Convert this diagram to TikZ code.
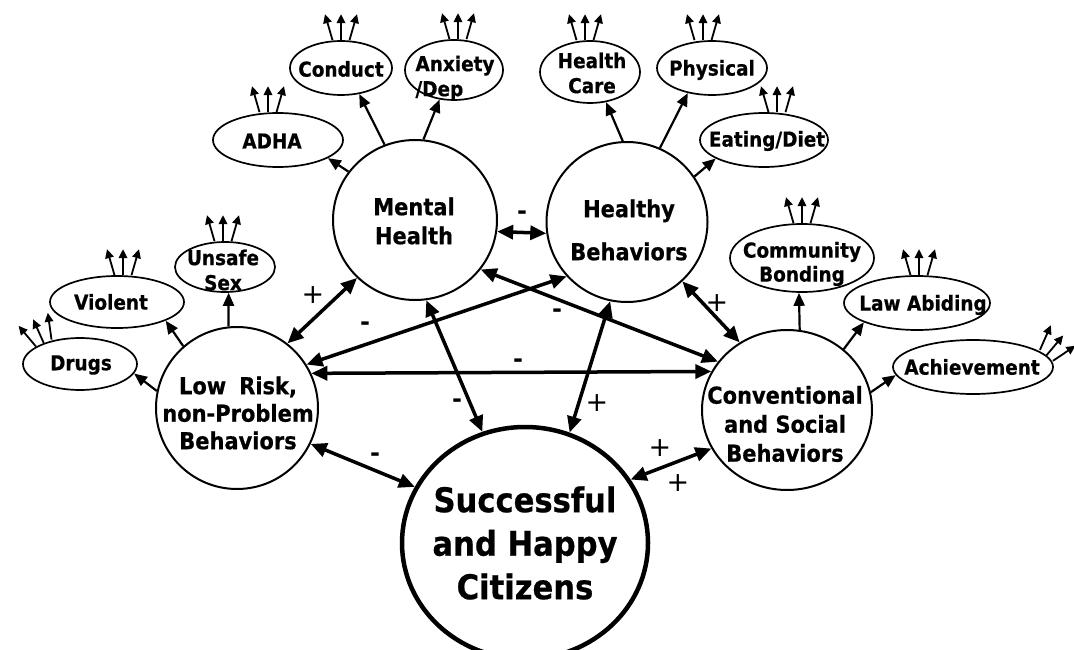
\documentclass[tikz,border=0pt]{standalone}
\usepackage{fontspec}
\usetikzlibrary{shapes.geometric,arrows.meta}
\newfontfamily\lblfont{DejaVu Sans}[FakeStretch=0.9, BoldFeatures={FakeBold=0.6}]
\newfontfamily\signfont{DejaVu Sans}
\begin{document}
\begin{tikzpicture}[x=1pt,y=-1pt,
  hub/.style={draw, ellipse, line width=2pt, inner sep=0pt},
  goal/.style={draw, ellipse, line width=4.5pt, inner sep=0pt},
  leaf/.style={draw, ellipse, line width=1.7pt, inner sep=0pt},
  leaftext/.style={inner sep=0pt, align=center, font=\lblfont\bfseries\fontsize{20.5}{25}\selectfont},
  hubtext/.style={inner sep=0pt, align=center, font=\lblfont\bfseries\fontsize{23.3}{29}\selectfont},
  link/.style={line width=3.5pt, {Triangle[length=16pt,width=14pt]}-{Triangle[length=16pt,width=14pt]}},
  branch/.style={line width=2.2pt, -{Triangle[length=13pt,width=11pt]}},
  sprout/.style={line width=1.8pt, -{Triangle[length=9pt,width=8.5pt]}},
  plus/.style={inner sep=0pt, font=\signfont\fontsize{27}{27}\selectfont},
  minus/.style={inner sep=0pt, font=\signfont\bfseries\fontsize{24}{24}\selectfont},
  fan/.pic={
    \draw[sprout] (-8.5,0) -- (-16,-26);
    \draw[sprout] (0,0) -- (0,-26);
    \draw[sprout] (8.5,0) -- (16,-26);
  }
]
\useasboundingbox (0,0) rectangle (1074,650);

% main domains
\node[hub, minimum width=164pt, minimum height=160pt] (mh) at (415,220) {};
\node[hub, minimum width=161pt, minimum height=160pt] (hb) at (627,222) {};
\node[hub, minimum width=162pt, minimum height=162pt] (lr) at (237,408) {};
\node[hub, minimum width=170pt, minimum height=160pt] (cv) at (787,410) {};
\node[goal, minimum width=246pt, minimum height=232pt] (sc) at (525,543) {};

\node[hubtext] (mht) at (414,221) {Mental\\Health};
\node[hubtext, font=\lblfont\bfseries\fontsize{23.3}{43}\selectfont] (hbt) at (629,230) {Healthy\\Behaviors};
\node[hubtext, font=\lblfont\bfseries\fontsize{23.3}{27.5}\selectfont] (lrt) at (238,413) {Low\hspace{13pt}Risk,\\non-Problem\\Behaviors};
\node[hubtext] (cvt) at (785,424) {Conventional\\and Social\\Behaviors};
\node[hubtext, font=\lblfont\bfseries\fontsize{34}{43.5}\selectfont] (sct) at (525,543) {Successful\\and Happy\\Citizens};

% outcome ellipses
\node[leaf, minimum width=130pt, minimum height=54pt] (adha) at (278,140) {};
\node[leaf, minimum width=102pt, minimum height=54pt] (cd) at (341,68) {};
\node[leaf, minimum width=98pt, minimum height=60pt] (ad) at (454,70) {};
\node[leaf, minimum width=100pt, minimum height=62pt] (hc) at (590,72) {};
\node[leaf, minimum width=110pt, minimum height=54pt] (ph) at (712,68) {};
\node[leaf, minimum width=128pt, minimum height=54pt] (ed) at (764,140) {};
\node[leaf, minimum width=100pt, minimum height=50pt] (us) at (225,267) {};
\node[leaf, minimum width=134pt, minimum height=52pt] (vi) at (117,302) {};
\node[leaf, minimum width=114pt, minimum height=52pt] (dr) at (80,364) {};
\node[leaf, minimum width=144pt, minimum height=68pt] (cb) at (802,258) {};
\node[leaf, minimum width=146pt, minimum height=54pt] (la) at (917,303) {};
\node[leaf, minimum width=160pt, minimum height=54pt] (ach) at (973,367) {};

\node[leaftext] (adhat) at (272,141) {ADHA};
\node[leaftext] (cdt) at (341,69) {Conduct};
\node[leaftext, align=left] (adt) at (455,78) {Anxiety\\/Dep};
\node[leaftext] (hct) at (592,73) {Health\\Care};
\node[leaftext] (pht) at (712,70) {Physical};
\node[leaftext] (edt) at (767,141) {Eating/Diet};
\node[leaftext] (ust) at (223,270) {Unsafe\\Sex};
\node[leaftext] (vit) at (111,302) {Violent};
\node[leaftext] (drt) at (81,365) {Drugs};
\node[leaftext, font=\lblfont\bfseries\fontsize{20.5}{24}\selectfont] (cbt) at (802,264) {Community\\Bonding};
\node[leaftext] (lat) at (923,305) {Law Abiding};
\node[leaftext] (acht) at (972,367) {Achievement};

% links between domains
\draw[link] (mh.-8.4) -- (hb.-172.8);
\draw[link] (lr.52) -- (mh.-135);
\draw[link] (lr.32.4) -- (hb.-138);
\draw[link] (mh.-37.5) -- (cv.145.7);
\draw[link] (lr.25.6) -- (cv.153.9);
\draw[link] (hb.-47.5) -- (cv.125.5);
\draw[link] (mh.-82) -- (sc.111.2);
\draw[link] (hb.-102) -- (sc.68.3);
\draw[link] (lr.-26.6) -- (sc.153.6);
\draw[link] (cv.-153.7) -- (sc.31);

% signs on the links
\node[minus] (s1) at (522,215) {-};
\node[plus]  (s2) at (313,295) {+};
\node[minus] (s3) at (365,326) {-};
\node[minus] (s4) at (557,313) {-};
\node[minus] (s5) at (518,363) {-};
\node[plus]  (s6) at (717,303) {+};
\node[minus] (s7) at (457,403) {-};
\node[plus]  (s8) at (597,403) {+};
\node[minus] (s9) at (375,457) {-};
\node[plus]  (s10) at (660,448) {+};
\node[plus]  (s11) at (678,483) {+};

% domains to their outcomes
\draw[branch] (mh.144) -- (adha.-20);
\draw[branch] (mh.112.5) -- (cd.-55);
\draw[branch] (mh.84) -- (ad.-116.6);
\draw[branch] (hb.93) -- (hc.-62.5);
\draw[branch] (hb.66) -- (ph.-134);
\draw[branch] (hb.34.6) -- (ed.-159);
\draw[branch] (lr.168.7) -- (dr.-10);
\draw[branch] (lr.131.5) -- (vi.-21.8);
\draw[branch] (lr.96) -- (us.-82);
\draw[branch] (cv.81.5) -- (cb.-95);
\draw[branch] (cv.47.4) -- (la.-160);
\draw[branch] (cv.12) -- (ach.-174);

% further effects of each outcome
\pic at ([xshift=-10pt]adha.north) {fan};
\pic at (cd.north) {fan};
\pic at ([xshift=4pt]ad.north) {fan};
\pic at ([xshift=-5pt]hc.north) {fan};
\pic at ([xshift=-9pt]ph.north) {fan};
\pic at ([xshift=13pt]ed.north) {fan};
\pic at ([xshift=-2pt]us.north) {fan};
\pic at ([xshift=6pt]vi.north) {fan};
\pic[rotate=24] at (dr.150) {fan};
\pic at (cb.north) {fan};
\pic at ([xshift=2pt]la.north) {fan};
\pic[rotate=-40] at (ach.9) {fan};
\end{tikzpicture}
\end{document}
